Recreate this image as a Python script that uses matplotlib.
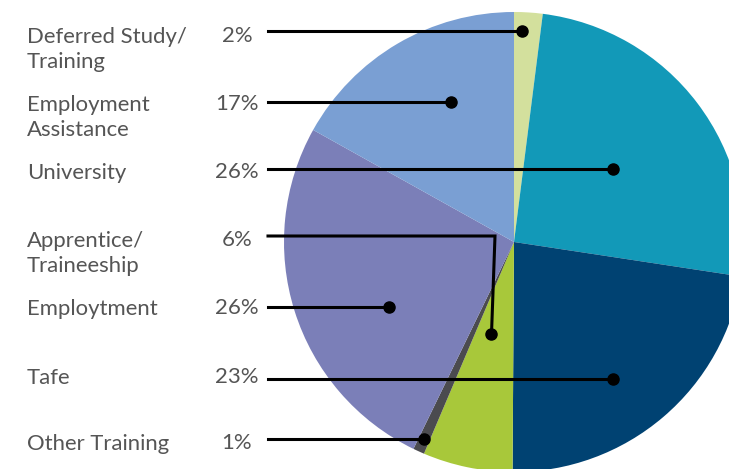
import matplotlib
matplotlib.use('Agg')
import matplotlib.pyplot as plt

# slice order: clockwise from 12 o'clock
categories = ['Deferred Study/\nTraining', 'University', 'Tafe', 'Apprentice/\nTraineeship',
              'Other Training', 'Employtment', 'Employment\nAssistance']
shares = [2.0, 25.4, 22.7, 6.3, 0.8, 25.9, 16.9]
pct_labels = ['2%', '26%', '23%', '6%', '1%', '26%', '17%']
colors = ['#d3e09d', '#1299b8', '#004272', '#a8c83a', '#4b4b4f', '#7b7fb8', '#7a9fd3']

# label rows (top to bottom) as indices into categories
row_order = [0, 6, 1, 3, 5, 2, 4]
row_y = [36, 104, 172, 240, 308, 377, 443]
leader_y = [31, 102, 169, 236, 307, 379, 439]
dot_xy = [(522, 31), (451, 102), (613, 169), (491.5, 334), (389, 307), (613, 379), (424, 439)]

W, H = 729, 469
fig = plt.figure(figsize=(W / 100, H / 100), dpi=100)
ax = fig.add_axes([0, 0, 1, 1])

# y axis is flipped below, so counterclock=True draws clockwise on screen
ax.pie(shares, colors=colors, startangle=-90, counterclock=True,
       center=(514, 242), radius=230, wedgeprops={'linewidth': 0})
ax.set_xlim(0, W)
ax.set_ylim(H, 0)
ax.set_aspect('auto')
ax.axis('off')

font = 'Lato'
txt_col = '#555555'
fs = 15.9
for r, i in enumerate(row_order):
    ax.text(27, row_y[r] - 9, categories[i], fontsize=fs, family=font, color=txt_col,
            va='top', ha='left', linespacing=1.32)
    ax.text(237, row_y[r], pct_labels[i], fontsize=fs, family=font, color=txt_col,
            va='center', ha='center')
    x1, y1 = dot_xy[r]
    if i == 3:
        # apprentice leader bends down into its slice
        ax.plot([268, 495, x1], [leader_y[r], leader_y[r], y1], color='black', lw=2.2,
                solid_joinstyle='miter')
    else:
        ax.plot([268, x1], [leader_y[r], y1], color='black', lw=2.2)
    ax.plot([x1], [y1], 'o', color='black', markersize=8)

fig.savefig('out.png', dpi=100)
